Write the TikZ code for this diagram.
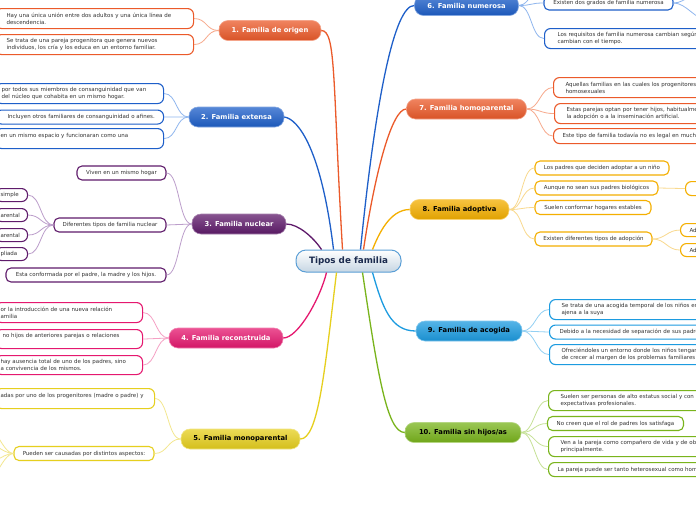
\documentclass[tikz,border=0pt]{standalone}
\usepackage{fontspec}
\setmainfont{DejaVu Sans}
\definecolor{cOr}{HTML}{EB5A2A}
\definecolor{cOrL}{HTML}{F7A98C}
\definecolor{cBl}{HTML}{1E5FC9}
\definecolor{cBlL}{HTML}{8FB6EE}
\definecolor{cPu}{HTML}{5F1B6B}
\definecolor{cPuL}{HTML}{BC9ECB}
\definecolor{cPk}{HTML}{E5186F}
\definecolor{cPkL}{HTML}{F5A0C4}
\definecolor{cYe}{HTML}{E6CF1E}
\definecolor{cYeL}{HTML}{F3E790}
\definecolor{cGo}{HTML}{F4AF00}
\definecolor{cGoL}{HTML}{F9D98E}
\definecolor{cSk}{HTML}{1C9BE0}
\definecolor{cSkL}{HTML}{93D0F3}
\definecolor{cGr}{HTML}{79B41C}
\definecolor{cGrL}{HTML}{C6E196}
\definecolor{cCb}{HTML}{5B9FD6}
\definecolor{cCg}{HTML}{C6D6E3}
\definecolor{cNavy}{HTML}{1B2B4E}
\definecolor{txt}{HTML}{333333}
\begin{document}
\begin{tikzpicture}[x=1pt,y=-1pt,
  mainnode/.style={rounded corners=9pt, minimum height=20pt, inner sep=0pt,
    font=\fontsize{6.8}{8}\selectfont\bfseries, draw=#1!55!white, line width=0.6pt,
    top color=#1!75!white, bottom color=#1!92!black, text=white},
  leafbase/.style={draw=#1, fill=white, line width=1.1pt, font=\fontsize{5.5}{7}\selectfont,
    text=txt, inner ysep=0pt},
  leafc/.style={leafbase=#1, rounded corners=5pt, inner xsep=0pt, minimum height=14pt},
  leafl/.style={leafbase=#1, rounded corners=6pt, anchor=north west, align=left, inner xsep=5pt},
  leafr/.style={leafbase=#1, rounded corners=6pt, anchor=north west, align=left},
  mainline/.style={draw=#1, line width=1.3pt},
  subline/.style={draw=#1, line width=0.8pt}]
\useasboundingbox (0,0) rectangle (696,520);
\fill[white] (0,0) rectangle (696,520);
\clip (0,0) rectangle (696,520);

% central node
\node[draw=cCb, line width=1pt, rounded corners=10pt, top color=white, bottom color=cCg,
  minimum width=105pt, minimum height=22pt, inner sep=0pt,
  font=\fontsize{8.8}{10}\selectfont\bfseries, text=cNavy] (c) at (348.5,261) {Tipos de familia};

% main nodes
\node[mainnode=cOr, minimum width=102pt] (m1) at (270,30.5) {1. Familia de origen};
\node[mainnode=cBl, minimum width=95pt] (m2) at (236.5,117) {2. Familia extensa};
\node[mainnode=cPu, minimum width=94pt] (m3) at (239,224) {3. Familia nuclear};
\node[mainnode=cPk, minimum width=114pt] (m4) at (226,338) {4. Familia reconstruida};
\node[mainnode=cYe, minimum width=119pt, text=black] (m5) at (240.5,439) {5. Familia monoparental};
\node[mainnode=cBl, minimum width=104pt] (m6) at (466.5,5.5) {6. Familia numerosa};
\node[mainnode=cOr, minimum width=120pt] (m7) at (466.5,109) {7. Familia homoparental};
\node[mainnode=cGo, minimum width=99pt, text=black] (m8) at (459.5,209.5) {8. Familia adoptiva};
\node[mainnode=cSk, minimum width=106pt, text=black] (m9) at (469,331) {9. Familia de acogida};
\node[mainnode=cGr, minimum width=116pt, text=black] (m10) at (463,432.5) {10. Familia sin hijos/as};

% group 1
\node[leafl=cOr, text width=188pt, minimum height=20pt] (l1a) at (-5,8) {\hspace*{6pt}Hay una única unión entre dos adultos y una única línea de\\\hspace*{6pt}descendencia.};
\node[leafl=cOr, text width=188pt, minimum height=20pt] (l1b) at (-5,34) {\hspace*{6pt}Se trata de una pareja progenitora que genera nuevos\\\hspace*{6pt}individuos, los cría y los educa en un entorno familiar.};
% group 2
\node[leafl=cBl, text width=158pt, minimum height=20pt] (l2a) at (-5,83) {\hspace*{1pt}por todos sus miembros de consanguinidad que van\\\hspace*{1pt}del núcleo que cohabita en un mismo hogar.};
\node[leafl=cBl, text width=158pt, minimum height=14pt] (l2b) at (-5,109.5) {\hspace*{7pt}Incluyen otros familiares de consanguinidad o afines.};
\node[leafl=cBl, text width=158pt, minimum height=20pt] (l2c) at (-5,128) {en un mismo espacio y funcionaran como una\\\mbox{}};
% group 3
\node[leafc=cPu, minimum width=89pt] (l3a) at (121.5,173) {Viven en un mismo hogar};
\node[leafc=cPu, minimum width=112pt] (l3b) at (110,225) {Diferentes tipos de familia nuclear};
\node[leafl=cPu, text width=22pt, minimum height=13pt] (l3c) at (-5,188) {simple};
\node[leafl=cPu, text width=22pt, minimum height=13pt] (l3d) at (-5,208) {arental};
\node[leafl=cPu, text width=22pt, minimum height=13pt] (l3e) at (-5,228) {arental};
\node[leafl=cPu, text width=22pt, minimum height=13pt] (l3f) at (-5,247) {pliada};
\node[leafc=cPu, minimum width=160pt] (l3g) at (86,275) {Esta conformada por el padre, la madre y los hijos.};
% group 4
\node[leafl=cPk, text width=137pt, minimum height=20pt] (l4a) at (-5,302) {or la introducción de una nueva relación\\amilia};
\node[leafl=cPk, text width=137pt, minimum height=19pt] (l4b) at (-5,329) {\hspace*{2pt}no hijos de anteriores parejas o relaciones\\\mbox{}};
\node[leafl=cPk, text width=137pt, minimum height=19pt] (l4c) at (-5,355) {hay ausencia total de uno de los padres, sino\\a convivencia de los mismos.};
% group 5
\node[leafl=cYe, text width=149pt, minimum height=20pt] (l5a) at (-5,388) {adas por uno de los progenitores (madre o padre) y\\\mbox{}};
\node[leafc=cYe, minimum width=140pt] (l5b) at (84,453.5) {Pueden ser causadas por distintos aspectos:};
% group 6
\node[leafc=cBl, minimum width=129pt] (l6a) at (608.5,3) {Existen dos grados de familia numerosa};
\node[leafr=cBl, inner xsep=13pt, text width=230pt, minimum height=20pt] (l6b) at (544,28) {Los requisitos de familia numerosa cambian según\\cambian con el tiempo.};
% group 7
\node[leafr=cOr, inner xsep=12pt, text width=223pt, minimum height=20pt] (l7a) at (553,77) {Aquellas familias en las cuales los progenitores\\homosexuales};
\node[leafr=cOr, inner xsep=12pt, text width=222pt, minimum height=20pt] (l7b) at (554,103) {Estas parejas optan por tener hijos, habitualme\\la adopción o a la inseminación artificial.};
\node[leafr=cOr, inner xsep=9pt, text width=229pt, minimum height=15pt] (l7c) at (553,128) {Este tipo de familia todavía no es legal en mucho};
% group 8
\node[leafc=cGo, minimum width=134pt] (l8a) at (602,168) {Los padres que deciden adoptar a un niño};
\node[leafc=cGo, minimum width=123pt] (l8b) at (596.5,188) {Aunque no sean sus padres biológicos};
\node[leafr=cGo, inner xsep=9pt, text width=80pt, minimum height=14pt] (l8g) at (685,181) {};
\node[leafc=cGo, minimum width=116pt] (l8c) at (593,207.5) {Suelen conformar hogares estables};
\node[leafc=cGo, minimum width=117pt] (l8d) at (593.5,239) {Existen diferentes tipos de adopción};
\node[leafr=cGo, inner xsep=9pt, text width=80pt, minimum height=13pt] (l8e) at (680,223) {Ad};
\node[leafr=cGo, inner xsep=9pt, text width=80pt, minimum height=13pt] (l8f) at (680,243) {Ad};
% group 9
\node[leafr=cSk, inner xsep=12pt, text width=227pt, minimum height=20pt] (l9a) at (549,299) {Se trata de una acogida temporal de los niños en\\ajena a la suya};
\node[leafr=cSk, inner xsep=10pt, text width=231pt, minimum height=14pt] (l9b) at (549,324.5) {Debido a la necesidad de separación de sus padres};
\node[leafr=cSk, inner xsep=12pt, text width=227pt, minimum height=20pt] (l9c) at (549,344) {Ofreciéndoles un entorno donde los niños tengan\\de crecer al margen de los problemas familiares};
% group 10
\node[leafr=cGr, inner xsep=12pt, text width=228pt, minimum height=20pt] (l10a) at (548,390) {Suelen ser personas de alto estatus social y con g\\expectativas profesionales.};
\node[leafc=cGr, minimum width=136pt] (l10b) at (615.5,423.5) {No creen que el rol de padres los satisfaga};
\node[leafr=cGr, inner xsep=12pt, text width=228pt, minimum height=20pt] (l10c) at (548,436) {Ven a la pareja como compañero de vida y de obj\\principalmente.};
\node[leafr=cGr, inner xsep=9pt, text width=234pt, minimum height=14pt] (l10d) at (548,462) {La pareja puede ser tanto heterosexual como hom};

% free ends
\coordinate (x6top) at (550,-25);
\coordinate (x6r1) at (708,-12);
\coordinate (x6r2) at (708,20);
\coordinate (x5a) at (-22,412);
\coordinate (x5b) at (-22,438);
\coordinate (x5c) at (-22,468);
\coordinate (x5d) at (-22,495);

% main connectors
\draw[mainline=cOr] (m1.east) .. controls +(15,0) and +(-10,-170) .. ([xshift=-6pt]c.north);
\draw[mainline=cBl] (m2.east) .. controls +(14,2) and +(-12,-100) .. ([xshift=-15pt]c.north);
\draw[mainline=cPu] (m3.east) .. controls +(12,0) and +(-8,-12) .. ([xshift=-27pt]c.north);
\draw[mainline=cPk] (m4.east) .. controls +(15,0) and +(-6,25) .. ([xshift=-22pt]c.south);
\draw[mainline=cYe] (m5.east) .. controls +(18,0) and +(-12,100) .. ([xshift=-12pt]c.south);
\draw[mainline=cBl] (m6.west) .. controls +(-20,0) and +(15,-150) .. ([xshift=12pt]c.north);
\draw[mainline=cOr] (m7.west) .. controls +(-14,0) and +(12,-80) .. ([xshift=15pt]c.north);
\draw[mainline=cGo] (m8.west) .. controls +(-20,0) and +(6,-15) .. ([xshift=24pt]c.north);
\draw[mainline=cSk] (m9.west) .. controls +(-25,0) and +(10,35) .. ([xshift=24pt]c.south);
\draw[mainline=cGr] (m10.west) .. controls +(-18,0) and +(15,100) .. ([xshift=14pt]c.south);

% sub connectors left
\foreach \l in {l1a,l1b}
  \draw[subline=cOrL] (m1.west) .. controls +(-13,0) and +(13,0) .. (\l.east);
\foreach \l in {l2a,l2b,l2c}
  \draw[subline=cBlL] (m2.west) .. controls +(-13,0) and +(13,0) .. (\l.east);
\foreach \l in {l3a,l3b,l3g}
  \draw[subline=cPuL] (m3.west) .. controls +(-13,0) and +(13,0) .. (\l.east);
\foreach \l in {l3c,l3d,l3e,l3f}
  \draw[subline=cPuL] (l3b.west) .. controls +(-13,0) and +(13,0) .. (\l.east);
\foreach \l in {l4a,l4b,l4c}
  \draw[subline=cPkL] (m4.west) .. controls +(-13,0) and +(13,0) .. (\l.east);
\foreach \l in {l5a,l5b}
  \draw[subline=cYeL] (m5.west) .. controls +(-13,0) and +(13,0) .. (\l.east);
\foreach \l in {x5a,x5b,x5c,x5d}
  \draw[subline=cYeL] (l5b.west) .. controls +(-12,0) and +(12,0) .. (\l);
% sub connectors right
\foreach \l in {l6a,l6b,x6top}
  \draw[subline=cBlL] (m6.east) .. controls +(13,0) and +(-13,0) .. (\l.west);
\foreach \l in {x6r1,x6r2}
  \draw[subline=cBlL] (l6a.east) .. controls +(13,0) and +(-13,0) .. (\l);
\foreach \l in {l7a,l7b,l7c}
  \draw[subline=cOrL] (m7.east) .. controls +(13,0) and +(-13,0) .. (\l.west);
\foreach \l in {l8a,l8b,l8c,l8d}
  \draw[subline=cGoL] (m8.east) .. controls +(13,0) and +(-13,0) .. (\l.west);
\draw[subline=cGoL] (l8b.east) -- (l8g.west);
\foreach \l in {l8e,l8f}
  \draw[subline=cGoL] (l8d.east) .. controls +(13,0) and +(-13,0) .. (\l.west);
\foreach \l in {l9a,l9b,l9c}
  \draw[subline=cSkL] (m9.east) .. controls +(13,0) and +(-13,0) .. (\l.west);
\foreach \l in {l10a,l10b,l10c,l10d}
  \draw[subline=cGrL] (m10.east) .. controls +(13,0) and +(-13,0) .. (\l.west);
\end{tikzpicture}
\end{document}
